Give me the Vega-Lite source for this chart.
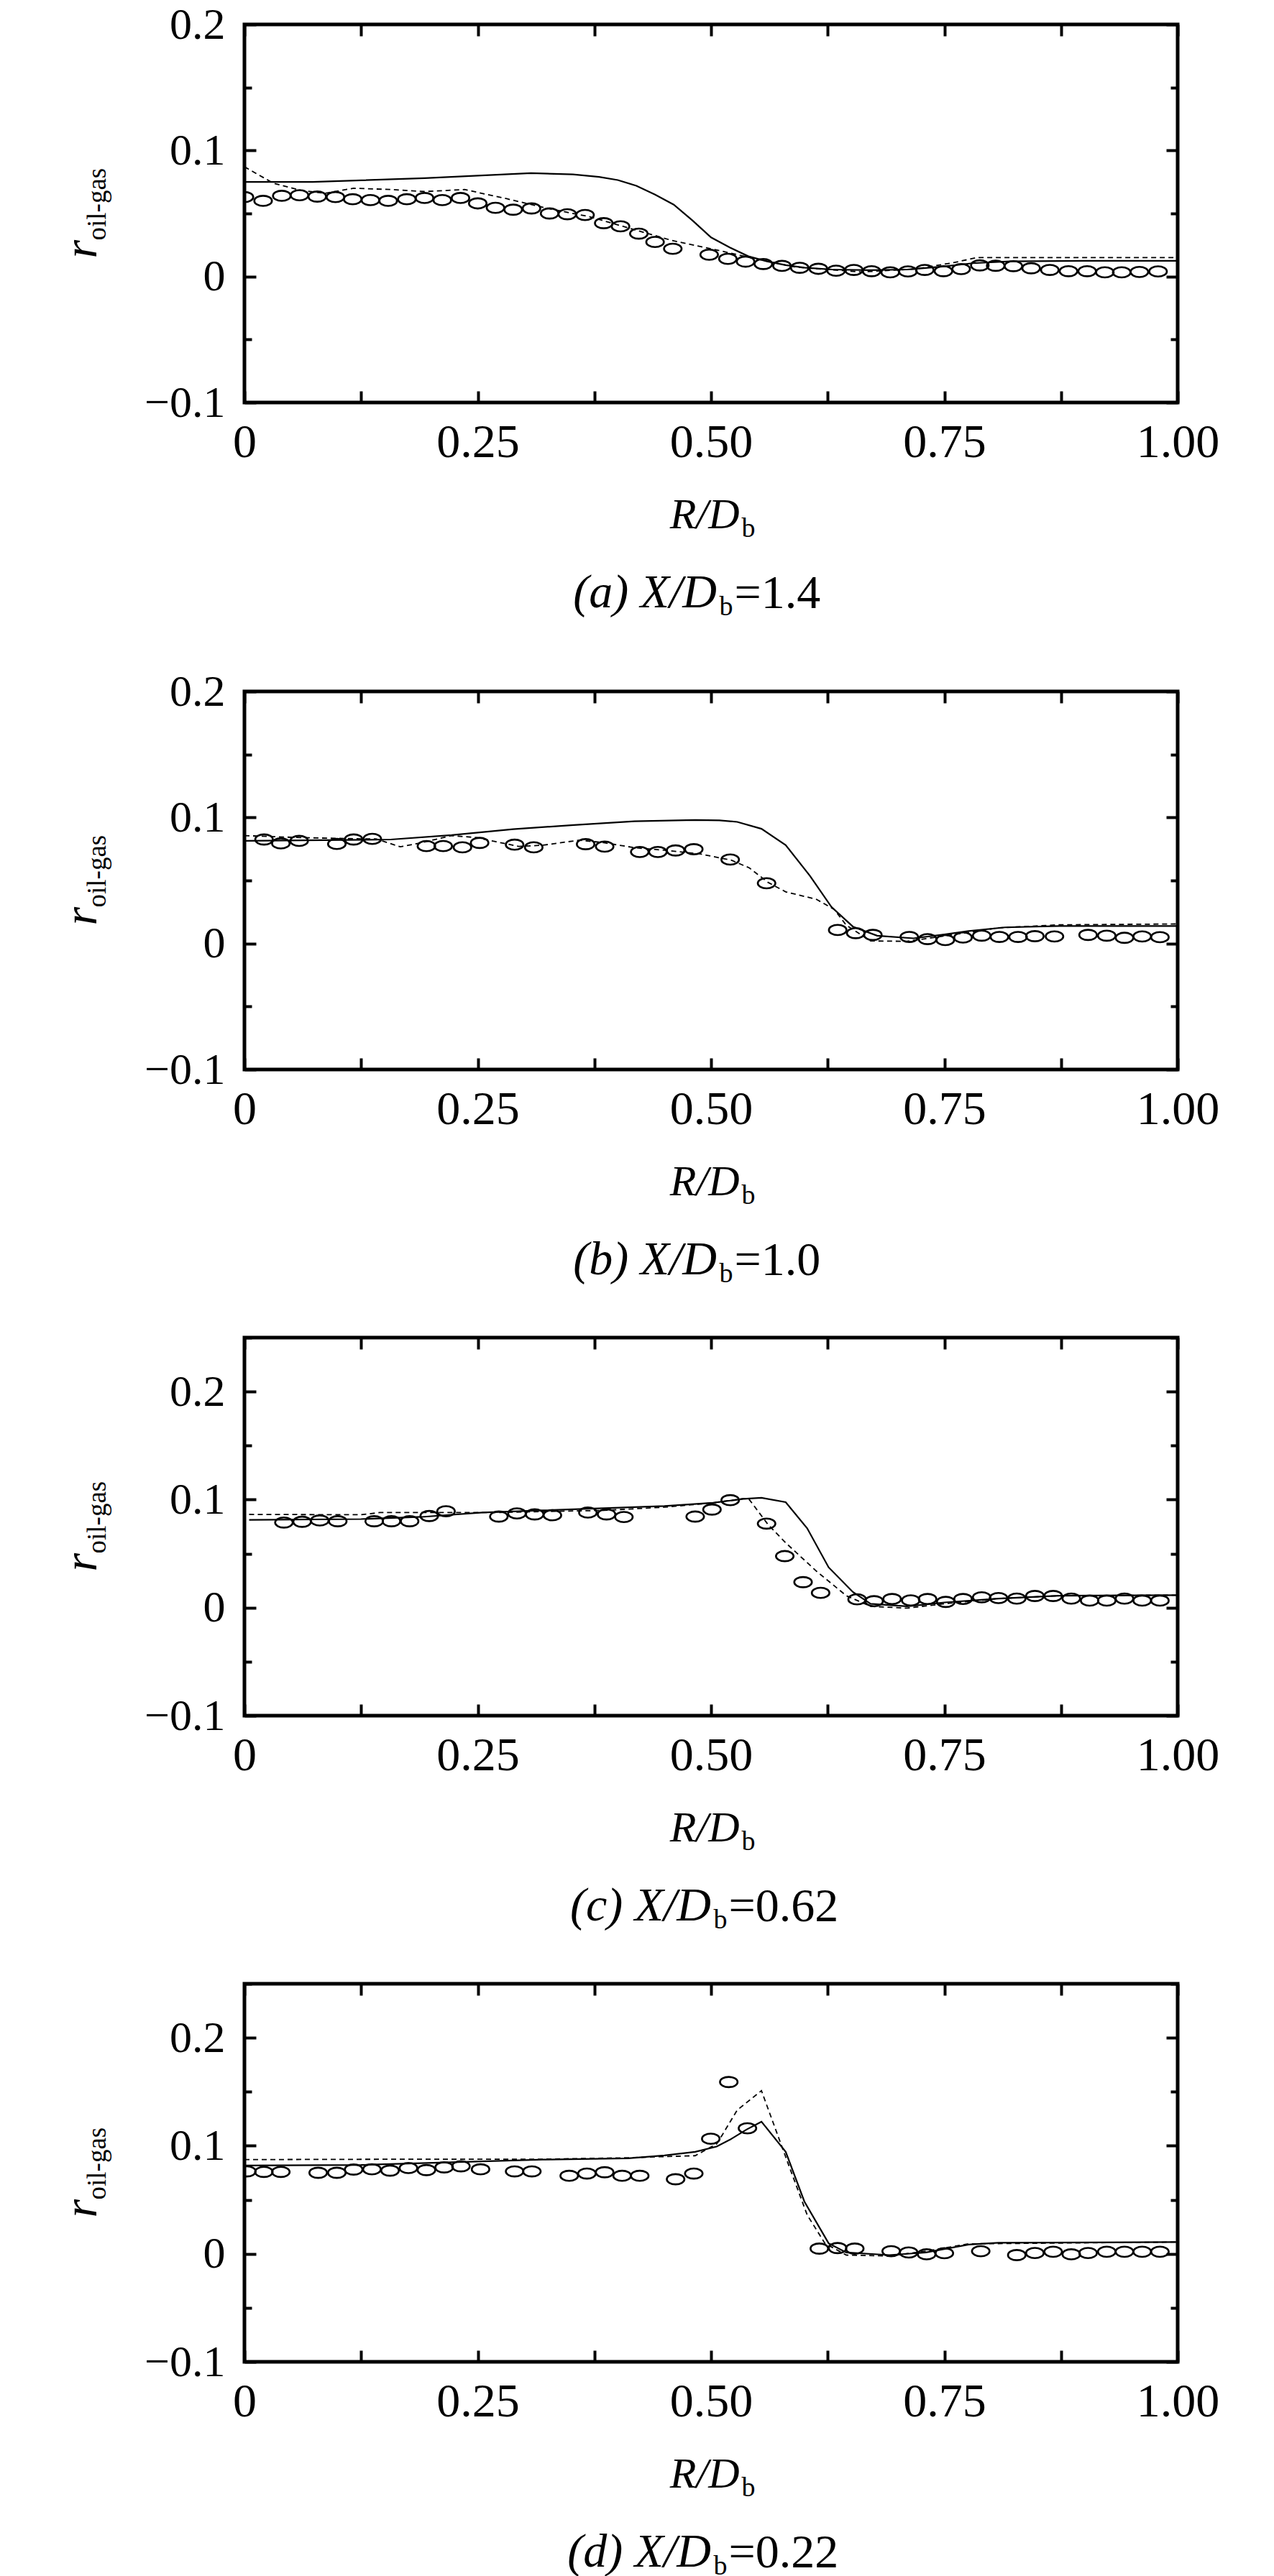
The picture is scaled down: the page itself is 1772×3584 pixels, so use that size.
{
  "$schema": "https://vega.github.io/schema/vega-lite/v6.json",
  "padding": {"left": 77, "top": 0, "right": 10, "bottom": 4},
  "spacing": 62,
  "config": {
    "view": {"stroke": "black", "strokeWidth": 5},
    "font": "Liberation Serif",
    "title": {"font": "Liberation Serif", "fontWeight": "normal", "color": "black"},
    "axis": {
      "domain": false, "grid": false,
      "labelFont": "Liberation Serif", "titleFont": "Liberation Serif",
      "labelColor": "black", "titleColor": "black", "tickColor": "black",
      "titleFontWeight": "normal", "labelFlush": false, "labelOverlap": false
    }
  },
  "datasets": {
    "a_solid": [
      {"R": 0, "v": 0.075}, {"R": 0.073, "v": 0.075}, {"R": 0.193, "v": 0.078}, {"R": 0.307, "v": 0.082},
      {"R": 0.352, "v": 0.081}, {"R": 0.38, "v": 0.079}, {"R": 0.40, "v": 0.0765}, {"R": 0.42, "v": 0.072},
      {"R": 0.44, "v": 0.065}, {"R": 0.46, "v": 0.057}, {"R": 0.48, "v": 0.0445}, {"R": 0.50, "v": 0.031},
      {"R": 0.52, "v": 0.023}, {"R": 0.54, "v": 0.016}, {"R": 0.56, "v": 0.012}, {"R": 0.58, "v": 0.009},
      {"R": 0.60, "v": 0.007}, {"R": 0.63, "v": 0.0055}, {"R": 0.67, "v": 0.005}, {"R": 0.71, "v": 0.0055},
      {"R": 0.75, "v": 0.008}, {"R": 0.78, "v": 0.0105}, {"R": 0.82, "v": 0.012}, {"R": 0.9, "v": 0.0124},
      {"R": 1.0, "v": 0.0124}
    ],
    "a_dash": [
      {"R": 0, "v": 0.087}, {"R": 0.031, "v": 0.074}, {"R": 0.06, "v": 0.0684}, {"R": 0.086, "v": 0.066},
      {"R": 0.117, "v": 0.070}, {"R": 0.157, "v": 0.069}, {"R": 0.193, "v": 0.0674}, {"R": 0.236, "v": 0.069},
      {"R": 0.281, "v": 0.0617}, {"R": 0.325, "v": 0.054}, {"R": 0.37, "v": 0.0474}, {"R": 0.414, "v": 0.038},
      {"R": 0.458, "v": 0.0286}, {"R": 0.502, "v": 0.0217}, {"R": 0.546, "v": 0.0143}, {"R": 0.591, "v": 0.0074},
      {"R": 0.661, "v": 0.0036}, {"R": 0.72, "v": 0.006}, {"R": 0.76, "v": 0.011}, {"R": 0.785, "v": 0.015},
      {"R": 1.0, "v": 0.015}
    ],
    "a_exp": [
      {"R": 0.0, "v": 0.063}, {"R": 0.020, "v": 0.060}, {"R": 0.040, "v": 0.064}, {"R": 0.059, "v": 0.0645},
      {"R": 0.078, "v": 0.0634}, {"R": 0.0975, "v": 0.063}, {"R": 0.116, "v": 0.0613}, {"R": 0.135, "v": 0.0606},
      {"R": 0.154, "v": 0.060}, {"R": 0.174, "v": 0.0613}, {"R": 0.193, "v": 0.0623}, {"R": 0.212, "v": 0.0606},
      {"R": 0.2315, "v": 0.0623}, {"R": 0.250, "v": 0.058}, {"R": 0.269, "v": 0.0545}, {"R": 0.288, "v": 0.053},
      {"R": 0.3076, "v": 0.054}, {"R": 0.327, "v": 0.050}, {"R": 0.346, "v": 0.0494}, {"R": 0.365, "v": 0.0488},
      {"R": 0.385, "v": 0.0423}, {"R": 0.403, "v": 0.0398}, {"R": 0.4226, "v": 0.034}, {"R": 0.440, "v": 0.0274},
      {"R": 0.459, "v": 0.022}, {"R": 0.498, "v": 0.0173}, {"R": 0.518, "v": 0.014}, {"R": 0.537, "v": 0.0118},
      {"R": 0.556, "v": 0.0099}, {"R": 0.576, "v": 0.0084}, {"R": 0.595, "v": 0.0069}, {"R": 0.615, "v": 0.0061},
      {"R": 0.634, "v": 0.0046}, {"R": 0.653, "v": 0.0052}, {"R": 0.672, "v": 0.0042}, {"R": 0.692, "v": 0.0033},
      {"R": 0.711, "v": 0.004}, {"R": 0.729, "v": 0.0052}, {"R": 0.749, "v": 0.0042}, {"R": 0.768, "v": 0.0059},
      {"R": 0.788, "v": 0.0088}, {"R": 0.805, "v": 0.0085}, {"R": 0.824, "v": 0.0082}, {"R": 0.843, "v": 0.0065},
      {"R": 0.863, "v": 0.0052}, {"R": 0.883, "v": 0.0042}, {"R": 0.903, "v": 0.0042}, {"R": 0.922, "v": 0.0033},
      {"R": 0.94, "v": 0.0033}, {"R": 0.959, "v": 0.0036}, {"R": 0.979, "v": 0.004}
    ],
    "b_solid": [
      {"R": 0, "v": 0.0814}, {"R": 0.157, "v": 0.0825}, {"R": 0.222, "v": 0.086}, {"R": 0.288, "v": 0.0907},
      {"R": 0.353, "v": 0.094}, {"R": 0.418, "v": 0.097}, {"R": 0.483, "v": 0.098}, {"R": 0.509, "v": 0.0977},
      {"R": 0.528, "v": 0.0965}, {"R": 0.554, "v": 0.091}, {"R": 0.580, "v": 0.078}, {"R": 0.606, "v": 0.0536},
      {"R": 0.629, "v": 0.029}, {"R": 0.652, "v": 0.0134}, {"R": 0.678, "v": 0.0062}, {"R": 0.717, "v": 0.0041},
      {"R": 0.750, "v": 0.0072}, {"R": 0.776, "v": 0.0099}, {"R": 0.815, "v": 0.0128}, {"R": 0.873, "v": 0.0138},
      {"R": 1.0, "v": 0.0138}
    ],
    "b_dash": [
      {"R": 0, "v": 0.0856}, {"R": 0.06, "v": 0.084}, {"R": 0.125, "v": 0.083}, {"R": 0.141, "v": 0.083},
      {"R": 0.167, "v": 0.0767}, {"R": 0.19, "v": 0.080}, {"R": 0.222, "v": 0.0856}, {"R": 0.249, "v": 0.084},
      {"R": 0.268, "v": 0.081}, {"R": 0.294, "v": 0.077}, {"R": 0.32, "v": 0.078}, {"R": 0.359, "v": 0.082},
      {"R": 0.385, "v": 0.080}, {"R": 0.418, "v": 0.076}, {"R": 0.45, "v": 0.074}, {"R": 0.489, "v": 0.071},
      {"R": 0.522, "v": 0.066}, {"R": 0.541, "v": 0.060}, {"R": 0.561, "v": 0.0485}, {"R": 0.58, "v": 0.041},
      {"R": 0.613, "v": 0.035}, {"R": 0.632, "v": 0.027}, {"R": 0.645, "v": 0.0144}, {"R": 0.671, "v": 0.002},
      {"R": 0.71, "v": 0.0017}, {"R": 0.75, "v": 0.006}, {"R": 0.808, "v": 0.0124}, {"R": 0.873, "v": 0.0148},
      {"R": 1.0, "v": 0.0155}
    ],
    "b_exp": [
      {"R": 0.021, "v": 0.0825}, {"R": 0.039, "v": 0.0794}, {"R": 0.0586, "v": 0.0814}, {"R": 0.099, "v": 0.079},
      {"R": 0.117, "v": 0.0825}, {"R": 0.137, "v": 0.083}, {"R": 0.195, "v": 0.0773}, {"R": 0.213, "v": 0.0773},
      {"R": 0.2336, "v": 0.0763}, {"R": 0.252, "v": 0.0798}, {"R": 0.2895, "v": 0.0784}, {"R": 0.310, "v": 0.0763},
      {"R": 0.3656, "v": 0.0788}, {"R": 0.386, "v": 0.0769}, {"R": 0.4236, "v": 0.0726}, {"R": 0.443, "v": 0.0726},
      {"R": 0.462, "v": 0.0738}, {"R": 0.4815, "v": 0.0748}, {"R": 0.5205, "v": 0.0666}, {"R": 0.5595, "v": 0.0478},
      {"R": 0.6357, "v": 0.0107}, {"R": 0.655, "v": 0.0082}, {"R": 0.6734, "v": 0.0068}, {"R": 0.7124, "v": 0.0052},
      {"R": 0.732, "v": 0.0035}, {"R": 0.751, "v": 0.0027}, {"R": 0.770, "v": 0.0047}, {"R": 0.79, "v": 0.0062},
      {"R": 0.809, "v": 0.0052}, {"R": 0.829, "v": 0.0052}, {"R": 0.847, "v": 0.0058}, {"R": 0.868, "v": 0.0056},
      {"R": 0.904, "v": 0.0068}, {"R": 0.924, "v": 0.0062}, {"R": 0.943, "v": 0.0045}, {"R": 0.962, "v": 0.0056},
      {"R": 0.981, "v": 0.005}
    ],
    "c_solid": [
      {"R": 0.005, "v": 0.0812}, {"R": 0.125, "v": 0.082}, {"R": 0.19, "v": 0.084}, {"R": 0.255, "v": 0.088},
      {"R": 0.32, "v": 0.090}, {"R": 0.385, "v": 0.092}, {"R": 0.45, "v": 0.094}, {"R": 0.502, "v": 0.097},
      {"R": 0.535, "v": 0.1007}, {"R": 0.554, "v": 0.1017}, {"R": 0.58, "v": 0.0976}, {"R": 0.603, "v": 0.0735},
      {"R": 0.626, "v": 0.0373}, {"R": 0.652, "v": 0.0145}, {"R": 0.671, "v": 0.0036}, {"R": 0.71, "v": 0.0012},
      {"R": 0.75, "v": 0.0048}, {"R": 0.808, "v": 0.0084}, {"R": 0.873, "v": 0.011}, {"R": 1.0, "v": 0.0116}
    ],
    "c_dash": [
      {"R": 0.005, "v": 0.0863}, {"R": 0.125, "v": 0.086}, {"R": 0.145, "v": 0.088}, {"R": 0.21, "v": 0.088},
      {"R": 0.268, "v": 0.088}, {"R": 0.32, "v": 0.089}, {"R": 0.385, "v": 0.090}, {"R": 0.45, "v": 0.093},
      {"R": 0.502, "v": 0.097}, {"R": 0.535, "v": 0.101}, {"R": 0.541, "v": 0.100}, {"R": 0.561, "v": 0.077},
      {"R": 0.58, "v": 0.060}, {"R": 0.613, "v": 0.0337}, {"R": 0.645, "v": 0.011}, {"R": 0.671, "v": 0.0012},
      {"R": 0.71, "v": -0.0005}, {"R": 0.75, "v": 0.0036}, {"R": 0.808, "v": 0.0084}, {"R": 0.873, "v": 0.011},
      {"R": 1.0, "v": 0.0116}
    ],
    "c_exp": [
      {"R": 0.0423, "v": 0.0788}, {"R": 0.0618, "v": 0.0795}, {"R": 0.0807, "v": 0.0807}, {"R": 0.100, "v": 0.080},
      {"R": 0.139, "v": 0.080}, {"R": 0.1575, "v": 0.080}, {"R": 0.177, "v": 0.080}, {"R": 0.198, "v": 0.0848},
      {"R": 0.216, "v": 0.0892}, {"R": 0.2726, "v": 0.0843}, {"R": 0.292, "v": 0.0872}, {"R": 0.311, "v": 0.0863},
      {"R": 0.330, "v": 0.0855}, {"R": 0.368, "v": 0.088}, {"R": 0.388, "v": 0.0863}, {"R": 0.4066, "v": 0.0839},
      {"R": 0.483, "v": 0.0843}, {"R": 0.501, "v": 0.0908}, {"R": 0.5205, "v": 0.0995}, {"R": 0.5595, "v": 0.0778},
      {"R": 0.579, "v": 0.0477}, {"R": 0.5986, "v": 0.0236}, {"R": 0.6174, "v": 0.0137}, {"R": 0.6565, "v": 0.0077},
      {"R": 0.6747, "v": 0.006}, {"R": 0.694, "v": 0.008}, {"R": 0.714, "v": 0.0067}, {"R": 0.732, "v": 0.008},
      {"R": 0.7515, "v": 0.0053}, {"R": 0.770, "v": 0.008}, {"R": 0.79, "v": 0.0096}, {"R": 0.808, "v": 0.0089},
      {"R": 0.8276, "v": 0.0084}, {"R": 0.847, "v": 0.0108}, {"R": 0.8666, "v": 0.0108}, {"R": 0.886, "v": 0.0084},
      {"R": 0.9057, "v": 0.0065}, {"R": 0.924, "v": 0.0065}, {"R": 0.943, "v": 0.0084}, {"R": 0.962, "v": 0.0065},
      {"R": 0.981, "v": 0.0065}
    ],
    "d_solid": [
      {"R": 0, "v": 0.0818}, {"R": 0.125, "v": 0.0823}, {"R": 0.222, "v": 0.0847}, {"R": 0.32, "v": 0.0872},
      {"R": 0.411, "v": 0.0884}, {"R": 0.45, "v": 0.091}, {"R": 0.483, "v": 0.0944}, {"R": 0.506, "v": 0.0993},
      {"R": 0.522, "v": 0.1065}, {"R": 0.538, "v": 0.115}, {"R": 0.554, "v": 0.1223}, {"R": 0.58, "v": 0.0944},
      {"R": 0.6, "v": 0.0484}, {"R": 0.626, "v": 0.0097}, {"R": 0.645, "v": 0.0012}, {"R": 0.691, "v": -0.0012},
      {"R": 0.73, "v": 0.0012}, {"R": 0.776, "v": 0.0085}, {"R": 0.808, "v": 0.0102}, {"R": 1.0, "v": 0.0109}
    ],
    "d_dash": [
      {"R": 0, "v": 0.0872}, {"R": 0.19, "v": 0.0876}, {"R": 0.32, "v": 0.0876}, {"R": 0.411, "v": 0.0889},
      {"R": 0.45, "v": 0.090}, {"R": 0.483, "v": 0.0908}, {"R": 0.506, "v": 0.1017}, {"R": 0.512, "v": 0.110},
      {"R": 0.528, "v": 0.133}, {"R": 0.554, "v": 0.151}, {"R": 0.58, "v": 0.0896}, {"R": 0.603, "v": 0.036},
      {"R": 0.622, "v": 0.0097}, {"R": 0.645, "v": -0.0012}, {"R": 0.691, "v": -0.002}, {"R": 0.73, "v": 0.0024},
      {"R": 0.776, "v": 0.0092}, {"R": 1.0, "v": 0.0109}
    ],
    "d_exp": [
      {"R": 0.0026, "v": 0.0763}, {"R": 0.0208, "v": 0.0758}, {"R": 0.039, "v": 0.0758}, {"R": 0.079, "v": 0.075},
      {"R": 0.099, "v": 0.075}, {"R": 0.117, "v": 0.078}, {"R": 0.1366, "v": 0.0782}, {"R": 0.156, "v": 0.077},
      {"R": 0.1757, "v": 0.0794}, {"R": 0.195, "v": 0.0775}, {"R": 0.214, "v": 0.080}, {"R": 0.232, "v": 0.081},
      {"R": 0.253, "v": 0.0782}, {"R": 0.2895, "v": 0.0763}, {"R": 0.308, "v": 0.0763}, {"R": 0.348, "v": 0.0722},
      {"R": 0.367, "v": 0.0743}, {"R": 0.386, "v": 0.0755}, {"R": 0.4047, "v": 0.0722}, {"R": 0.4236, "v": 0.0722},
      {"R": 0.462, "v": 0.069}, {"R": 0.4815, "v": 0.0743}, {"R": 0.4997, "v": 0.1065}, {"R": 0.519, "v": 0.159},
      {"R": 0.539, "v": 0.1162}, {"R": 0.616, "v": 0.0048}, {"R": 0.6356, "v": 0.0053}, {"R": 0.654, "v": 0.0048},
      {"R": 0.693, "v": 0.0024}, {"R": 0.7118, "v": 0.0012}, {"R": 0.731, "v": -0.0005}, {"R": 0.750, "v": 0.0005},
      {"R": 0.789, "v": 0.0024}, {"R": 0.8276, "v": -0.0012}, {"R": 0.847, "v": 0.0007}, {"R": 0.8666, "v": 0.0019},
      {"R": 0.886, "v": -0.0005}, {"R": 0.904, "v": 0.0007}, {"R": 0.924, "v": 0.0019}, {"R": 0.943, "v": 0.0019},
      {"R": 0.962, "v": 0.0019}, {"R": 0.981, "v": 0.0019}
    ]
  },
  "vconcat": [
    {
      "width": 1298, "height": 526,
      "title": {"text": "(a) X/D", "orient": "bottom", "anchor": "start", "frame": "group", "align": "right", "dx": 657, "offset": -18, "baseline": "alphabetic", "fontSize": 66, "fontStyle": "italic"},
      "resolve": {"axis": {"x": "independent", "y": "independent"}},
      "layer": [
        {
          "data": {"name": "a_solid"},
          "mark": {"type": "line", "color": "black", "strokeWidth": 2.2, "clip": true},
          "encoding": {
            "x": {"field": "R", "type": "quantitative", "scale": {"domain": [0, 1], "nice": false, "zero": false},
              "axis": {"orient": "bottom", "values": [0, 0.25, 0.5, 0.75, 1], "labelExpr": "datum.value == 0 ? '0' : format(datum.value, '.2f')", "ticks": false, "tickSize": 0, "labelPadding": 75, "labelBaseline": "alphabetic", "labelFontSize": 66,
                "title": "R/D", "titleFontSize": 60, "titleFontStyle": "italic", "titleX": 688, "titleY": 174, "titleAlign": "right", "titleBaseline": "alphabetic", "titleAngle": 0}},
            "y": {"field": "v", "type": "quantitative", "scale": {"domain": [-0.1, 0.2], "nice": false, "zero": false},
              "axis": {"orient": "left", "values": [-0.1, 0, 0.1, 0.2], "labelExpr": "datum.value == 0 ? '0' : format(datum.value, '.1f')", "ticks": false, "tickSize": 0, "labelPadding": 27, "labelFontSize": 62,
                "title": "r", "titleFontSize": 66, "titleFontStyle": "italic", "titleX": -207, "titleY": 325, "titleAngle": 270, "titleAlign": "left", "titleBaseline": "alphabetic"}}
          }
        },
        {
          "data": {"name": "a_dash"},
          "mark": {"type": "line", "color": "black", "strokeWidth": 1.8, "strokeDash": [7, 5], "clip": true},
          "encoding": {
            "x": {"field": "R", "type": "quantitative", "scale": {"domain": [0, 1], "nice": false, "zero": false},
              "axis": {"orient": "top", "values": [0, 0.125, 0.25, 0.375, 0.5, 0.625, 0.75, 0.875, 1], "labels": false, "tickSize": -16, "tickWidth": 4,
                "title": "b", "titleFontSize": 38, "titleX": 691, "titleY": 712, "titleAlign": "left", "titleBaseline": "alphabetic", "titleAngle": 0}},
            "y": {"field": "v", "type": "quantitative", "scale": {"domain": [-0.1, 0.2], "nice": false, "zero": false},
              "axis": {"orient": "right", "values": [-0.1, -0.05, 0, 0.05, 0.1, 0.15, 0.2], "labels": false, "tickWidth": 4,
                "tickSize": {"condition": {"test": "round(datum.value * 100) % 10 != 0", "value": -10}, "value": -16},
                "title": "=1.4", "titleFontSize": 66, "titleX": -617, "titleY": 811, "titleAlign": "left", "titleBaseline": "alphabetic", "titleAngle": 0}}
          }
        },
        {
          "data": {"name": "a_exp"},
          "mark": {"type": "point", "shape": "M-1,0A1,0.58,0,1,1,1,0A1,0.58,0,1,1,-1,0Z", "size": 600, "filled": false, "color": "black", "strokeWidth": 2.6, "opacity": 1, "clip": true},
          "encoding": {
            "x": {"field": "R", "type": "quantitative", "scale": {"domain": [0, 1], "nice": false, "zero": false},
              "axis": {"orient": "bottom", "values": [0, 0.125, 0.25, 0.375, 0.5, 0.625, 0.75, 0.875, 1], "labels": false, "tickSize": -16, "tickWidth": 4,
                "title": "b", "titleFontSize": 38, "titleX": 660, "titleY": 295, "titleAlign": "left", "titleBaseline": "alphabetic", "titleAngle": 0}},
            "y": {"field": "v", "type": "quantitative", "scale": {"domain": [-0.1, 0.2], "nice": false, "zero": false},
              "axis": {"orient": "left", "values": [-0.1, -0.05, 0, 0.05, 0.1, 0.15, 0.2], "labels": false, "tickWidth": 4,
                "tickSize": {"condition": {"test": "round(datum.value * 100) % 10 != 0", "value": -10}, "value": -16},
                "title": "oil-gas", "titleFontSize": 37, "titleX": -194, "titleY": 300, "titleAngle": 270, "titleAlign": "left", "titleBaseline": "alphabetic"}}
          }
        }
      ]
    },
    {
      "width": 1298, "height": 526,
      "title": {"text": "(b) X/D", "orient": "bottom", "anchor": "start", "frame": "group", "align": "right", "dx": 657, "offset": -18, "baseline": "alphabetic", "fontSize": 66, "fontStyle": "italic"},
      "resolve": {"axis": {"x": "independent", "y": "independent"}},
      "layer": [
        {
          "data": {"name": "b_solid"},
          "mark": {"type": "line", "color": "black", "strokeWidth": 2.2, "clip": true},
          "encoding": {
            "x": {"field": "R", "type": "quantitative", "scale": {"domain": [0, 1], "nice": false, "zero": false},
              "axis": {"orient": "bottom", "values": [0, 0.25, 0.5, 0.75, 1], "labelExpr": "datum.value == 0 ? '0' : format(datum.value, '.2f')", "ticks": false, "tickSize": 0, "labelPadding": 75, "labelBaseline": "alphabetic", "labelFontSize": 66,
                "title": "R/D", "titleFontSize": 60, "titleFontStyle": "italic", "titleX": 688, "titleY": 174, "titleAlign": "right", "titleBaseline": "alphabetic", "titleAngle": 0}},
            "y": {"field": "v", "type": "quantitative", "scale": {"domain": [-0.1, 0.2], "nice": false, "zero": false},
              "axis": {"orient": "left", "values": [-0.1, 0, 0.1, 0.2], "labelExpr": "datum.value == 0 ? '0' : format(datum.value, '.1f')", "ticks": false, "tickSize": 0, "labelPadding": 27, "labelFontSize": 62,
                "title": "r", "titleFontSize": 66, "titleFontStyle": "italic", "titleX": -207, "titleY": 325, "titleAngle": 270, "titleAlign": "left", "titleBaseline": "alphabetic"}}
          }
        },
        {
          "data": {"name": "b_dash"},
          "mark": {"type": "line", "color": "black", "strokeWidth": 1.8, "strokeDash": [7, 5], "clip": true},
          "encoding": {
            "x": {"field": "R", "type": "quantitative", "scale": {"domain": [0, 1], "nice": false, "zero": false},
              "axis": {"orient": "top", "values": [0, 0.125, 0.25, 0.375, 0.5, 0.625, 0.75, 0.875, 1], "labels": false, "tickSize": -16, "tickWidth": 4,
                "title": "b", "titleFontSize": 38, "titleX": 691, "titleY": 712, "titleAlign": "left", "titleBaseline": "alphabetic", "titleAngle": 0}},
            "y": {"field": "v", "type": "quantitative", "scale": {"domain": [-0.1, 0.2], "nice": false, "zero": false},
              "axis": {"orient": "right", "values": [-0.1, -0.05, 0, 0.05, 0.1, 0.15, 0.2], "labels": false, "tickWidth": 4,
                "tickSize": {"condition": {"test": "round(datum.value * 100) % 10 != 0", "value": -10}, "value": -16},
                "title": "=1.0", "titleFontSize": 66, "titleX": -617, "titleY": 811, "titleAlign": "left", "titleBaseline": "alphabetic", "titleAngle": 0}}
          }
        },
        {
          "data": {"name": "b_exp"},
          "mark": {"type": "point", "shape": "M-1,0A1,0.58,0,1,1,1,0A1,0.58,0,1,1,-1,0Z", "size": 600, "filled": false, "color": "black", "strokeWidth": 2.6, "opacity": 1, "clip": true},
          "encoding": {
            "x": {"field": "R", "type": "quantitative", "scale": {"domain": [0, 1], "nice": false, "zero": false},
              "axis": {"orient": "bottom", "values": [0, 0.125, 0.25, 0.375, 0.5, 0.625, 0.75, 0.875, 1], "labels": false, "tickSize": -16, "tickWidth": 4,
                "title": "b", "titleFontSize": 38, "titleX": 660, "titleY": 295, "titleAlign": "left", "titleBaseline": "alphabetic", "titleAngle": 0}},
            "y": {"field": "v", "type": "quantitative", "scale": {"domain": [-0.1, 0.2], "nice": false, "zero": false},
              "axis": {"orient": "left", "values": [-0.1, -0.05, 0, 0.05, 0.1, 0.15, 0.2], "labels": false, "tickWidth": 4,
                "tickSize": {"condition": {"test": "round(datum.value * 100) % 10 != 0", "value": -10}, "value": -16},
                "title": "oil-gas", "titleFontSize": 37, "titleX": -194, "titleY": 300, "titleAngle": 270, "titleAlign": "left", "titleBaseline": "alphabetic"}}
          }
        }
      ]
    },
    {
      "width": 1298, "height": 526,
      "title": {"text": "(c) X/D", "orient": "bottom", "anchor": "start", "frame": "group", "align": "right", "dx": 649, "offset": -18, "baseline": "alphabetic", "fontSize": 66, "fontStyle": "italic"},
      "resolve": {"axis": {"x": "independent", "y": "independent"}},
      "layer": [
        {
          "data": {"name": "c_solid"},
          "mark": {"type": "line", "color": "black", "strokeWidth": 2.2, "clip": true},
          "encoding": {
            "x": {"field": "R", "type": "quantitative", "scale": {"domain": [0, 1], "nice": false, "zero": false},
              "axis": {"orient": "bottom", "values": [0, 0.25, 0.5, 0.75, 1], "labelExpr": "datum.value == 0 ? '0' : format(datum.value, '.2f')", "ticks": false, "tickSize": 0, "labelPadding": 75, "labelBaseline": "alphabetic", "labelFontSize": 66,
                "title": "R/D", "titleFontSize": 60, "titleFontStyle": "italic", "titleX": 688, "titleY": 174, "titleAlign": "right", "titleBaseline": "alphabetic", "titleAngle": 0}},
            "y": {"field": "v", "type": "quantitative", "scale": {"domain": [-0.1, 0.25], "nice": false, "zero": false},
              "axis": {"orient": "left", "values": [-0.1, 0, 0.1, 0.2], "labelExpr": "datum.value == 0 ? '0' : format(datum.value, '.1f')", "ticks": false, "tickSize": 0, "labelPadding": 27, "labelFontSize": 62,
                "title": "r", "titleFontSize": 66, "titleFontStyle": "italic", "titleX": -207, "titleY": 325, "titleAngle": 270, "titleAlign": "left", "titleBaseline": "alphabetic"}}
          }
        },
        {
          "data": {"name": "c_dash"},
          "mark": {"type": "line", "color": "black", "strokeWidth": 1.8, "strokeDash": [7, 5], "clip": true},
          "encoding": {
            "x": {"field": "R", "type": "quantitative", "scale": {"domain": [0, 1], "nice": false, "zero": false},
              "axis": {"orient": "top", "values": [0, 0.125, 0.25, 0.375, 0.5, 0.625, 0.75, 0.875, 1], "labels": false, "tickSize": -16, "tickWidth": 4,
                "title": "b", "titleFontSize": 38, "titleX": 691, "titleY": 712, "titleAlign": "left", "titleBaseline": "alphabetic", "titleAngle": 0}},
            "y": {"field": "v", "type": "quantitative", "scale": {"domain": [-0.1, 0.25], "nice": false, "zero": false},
              "axis": {"orient": "right", "values": [-0.1, -0.05, 0, 0.05, 0.1, 0.15, 0.2, 0.25], "labels": false, "tickWidth": 4,
                "tickSize": {"condition": {"test": "round(datum.value * 100) % 10 != 0", "value": -10}, "value": -16},
                "title": "=0.62", "titleFontSize": 66, "titleX": -625, "titleY": 811, "titleAlign": "left", "titleBaseline": "alphabetic", "titleAngle": 0}}
          }
        },
        {
          "data": {"name": "c_exp"},
          "mark": {"type": "point", "shape": "M-1,0A1,0.58,0,1,1,1,0A1,0.58,0,1,1,-1,0Z", "size": 600, "filled": false, "color": "black", "strokeWidth": 2.6, "opacity": 1, "clip": true},
          "encoding": {
            "x": {"field": "R", "type": "quantitative", "scale": {"domain": [0, 1], "nice": false, "zero": false},
              "axis": {"orient": "bottom", "values": [0, 0.125, 0.25, 0.375, 0.5, 0.625, 0.75, 0.875, 1], "labels": false, "tickSize": -16, "tickWidth": 4,
                "title": "b", "titleFontSize": 38, "titleX": 652, "titleY": 295, "titleAlign": "left", "titleBaseline": "alphabetic", "titleAngle": 0}},
            "y": {"field": "v", "type": "quantitative", "scale": {"domain": [-0.1, 0.25], "nice": false, "zero": false},
              "axis": {"orient": "left", "values": [-0.1, -0.05, 0, 0.05, 0.1, 0.15, 0.2, 0.25], "labels": false, "tickWidth": 4,
                "tickSize": {"condition": {"test": "round(datum.value * 100) % 10 != 0", "value": -10}, "value": -16},
                "title": "oil-gas", "titleFontSize": 37, "titleX": -194, "titleY": 300, "titleAngle": 270, "titleAlign": "left", "titleBaseline": "alphabetic"}}
          }
        }
      ]
    },
    {
      "width": 1298, "height": 526,
      "title": {"text": "(d) X/D", "orient": "bottom", "anchor": "start", "frame": "group", "align": "right", "dx": 649, "offset": -18, "baseline": "alphabetic", "fontSize": 66, "fontStyle": "italic"},
      "resolve": {"axis": {"x": "independent", "y": "independent"}},
      "layer": [
        {
          "data": {"name": "d_solid"},
          "mark": {"type": "line", "color": "black", "strokeWidth": 2.2, "clip": true},
          "encoding": {
            "x": {"field": "R", "type": "quantitative", "scale": {"domain": [0, 1], "nice": false, "zero": false},
              "axis": {"orient": "bottom", "values": [0, 0.25, 0.5, 0.75, 1], "labelExpr": "datum.value == 0 ? '0' : format(datum.value, '.2f')", "ticks": false, "tickSize": 0, "labelPadding": 75, "labelBaseline": "alphabetic", "labelFontSize": 66,
                "title": "R/D", "titleFontSize": 60, "titleFontStyle": "italic", "titleX": 688, "titleY": 174, "titleAlign": "right", "titleBaseline": "alphabetic", "titleAngle": 0}},
            "y": {"field": "v", "type": "quantitative", "scale": {"domain": [-0.1, 0.25], "nice": false, "zero": false},
              "axis": {"orient": "left", "values": [-0.1, 0, 0.1, 0.2], "labelExpr": "datum.value == 0 ? '0' : format(datum.value, '.1f')", "ticks": false, "tickSize": 0, "labelPadding": 27, "labelFontSize": 62,
                "title": "r", "titleFontSize": 66, "titleFontStyle": "italic", "titleX": -207, "titleY": 325, "titleAngle": 270, "titleAlign": "left", "titleBaseline": "alphabetic"}}
          }
        },
        {
          "data": {"name": "d_dash"},
          "mark": {"type": "line", "color": "black", "strokeWidth": 1.8, "strokeDash": [7, 5], "clip": true},
          "encoding": {
            "x": {"field": "R", "type": "quantitative", "scale": {"domain": [0, 1], "nice": false, "zero": false},
              "axis": {"orient": "top", "values": [0, 0.125, 0.25, 0.375, 0.5, 0.625, 0.75, 0.875, 1], "labels": false, "tickSize": -16, "tickWidth": 4,
                "title": "b", "titleFontSize": 38, "titleX": 691, "titleY": 712, "titleAlign": "left", "titleBaseline": "alphabetic", "titleAngle": 0}},
            "y": {"field": "v", "type": "quantitative", "scale": {"domain": [-0.1, 0.25], "nice": false, "zero": false},
              "axis": {"orient": "right", "values": [-0.1, -0.05, 0, 0.05, 0.1, 0.15, 0.2, 0.25], "labels": false, "tickWidth": 4,
                "tickSize": {"condition": {"test": "round(datum.value * 100) % 10 != 0", "value": -10}, "value": -16},
                "title": "=0.22", "titleFontSize": 66, "titleX": -625, "titleY": 811, "titleAlign": "left", "titleBaseline": "alphabetic", "titleAngle": 0}}
          }
        },
        {
          "data": {"name": "d_exp"},
          "mark": {"type": "point", "shape": "M-1,0A1,0.58,0,1,1,1,0A1,0.58,0,1,1,-1,0Z", "size": 600, "filled": false, "color": "black", "strokeWidth": 2.6, "opacity": 1, "clip": true},
          "encoding": {
            "x": {"field": "R", "type": "quantitative", "scale": {"domain": [0, 1], "nice": false, "zero": false},
              "axis": {"orient": "bottom", "values": [0, 0.125, 0.25, 0.375, 0.5, 0.625, 0.75, 0.875, 1], "labels": false, "tickSize": -16, "tickWidth": 4,
                "title": "b", "titleFontSize": 38, "titleX": 652, "titleY": 295, "titleAlign": "left", "titleBaseline": "alphabetic", "titleAngle": 0}},
            "y": {"field": "v", "type": "quantitative", "scale": {"domain": [-0.1, 0.25], "nice": false, "zero": false},
              "axis": {"orient": "left", "values": [-0.1, -0.05, 0, 0.05, 0.1, 0.15, 0.2, 0.25], "labels": false, "tickWidth": 4,
                "tickSize": {"condition": {"test": "round(datum.value * 100) % 10 != 0", "value": -10}, "value": -16},
                "title": "oil-gas", "titleFontSize": 37, "titleX": -194, "titleY": 300, "titleAngle": 270, "titleAlign": "left", "titleBaseline": "alphabetic"}}
          }
        }
      ]
    }
  ]
}
